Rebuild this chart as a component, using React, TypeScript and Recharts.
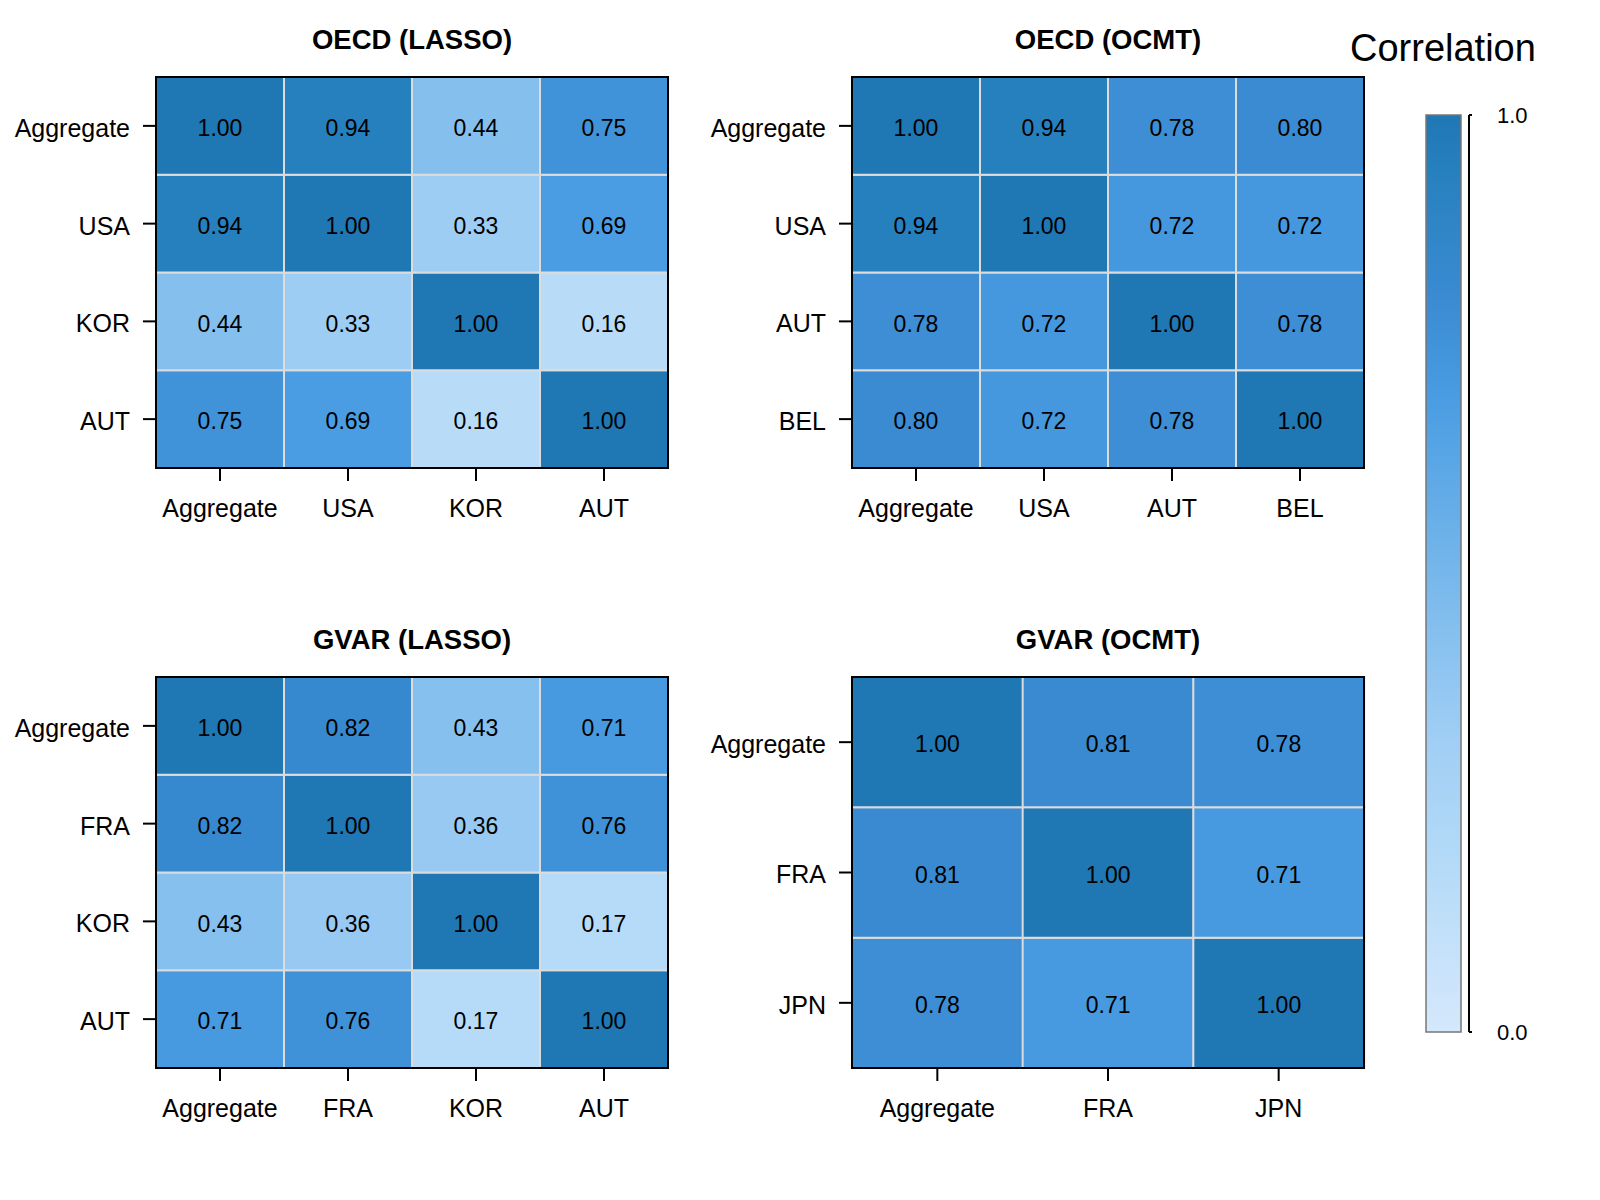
import React from 'react';
import { BarChart, Bar, XAxis, YAxis, Cell, LabelList, ReferenceArea } from 'recharts';

const oecdLassoLabels = ['Aggregate', 'USA', 'KOR', 'AUT'];
const oecdLassoValues = [
  [1.0, 0.94, 0.44, 0.75],
  [0.94, 1.0, 0.33, 0.69],
  [0.44, 0.33, 1.0, 0.16],
  [0.75, 0.69, 0.16, 1.0],
];

const oecdOcmtLabels = ['Aggregate', 'USA', 'AUT', 'BEL'];
const oecdOcmtValues = [
  [1.0, 0.94, 0.78, 0.8],
  [0.94, 1.0, 0.72, 0.72],
  [0.78, 0.72, 1.0, 0.78],
  [0.8, 0.72, 0.78, 1.0],
];

const gvarLassoLabels = ['Aggregate', 'FRA', 'KOR', 'AUT'];
const gvarLassoValues = [
  [1.0, 0.82, 0.43, 0.71],
  [0.82, 1.0, 0.36, 0.76],
  [0.43, 0.36, 1.0, 0.17],
  [0.71, 0.76, 0.17, 1.0],
];

const gvarOcmtLabels = ['Aggregate', 'FRA', 'JPN'];
const gvarOcmtValues = [
  [1.0, 0.81, 0.78],
  [0.81, 1.0, 0.71],
  [0.78, 0.71, 1.0],
];

const colorbarTicks = [0, 1];

const colorStops: [number, number[]][] = [
  [0.0, [213, 232, 252]],
  [0.16, [184, 220, 248]],
  [0.33, [158, 205, 244]],
  [0.44, [132, 191, 238]],
  [0.69, [74, 157, 226]],
  [0.8, [58, 139, 210]],
  [0.94, [39, 128, 190]],
  [1.0, [31, 119, 180]],
];

function corrColor(v: number): string {
  let i = 0;
  while (i < colorStops.length - 2 && v > colorStops[i + 1][0]) i++;
  const [a, ca] = colorStops[i];
  const [b, cb] = colorStops[i + 1];
  const t = Math.max(0, Math.min(1, (v - a) / (b - a)));
  const c = ca.map((x, k) => Math.round(x + (cb[k] - x) * t));
  return `rgb(${c[0]},${c[1]},${c[2]})`;
}

const FONT = '"Liberation Sans", Arial, sans-serif';
const BOX_W = 512;
const BOX_H = 391;

type HeatProps = {
  title: string;
  labels: string[];
  values: number[][];
  left: number;
  top: number;
};

function Heatmap({ title, labels, values, left, top }: HeatProps) {
  const n = labels.length;
  const data = labels.map((lab, j) => {
    const row: Record<string, any> = { col: lab };
    for (let k = 0; k < n; k++) {
      row[`s${k}`] = 1;
      row[`t${k}`] = values[n - 1 - k][j].toFixed(2);
    }
    return row;
  });
  const yTicks = Array.from({ length: n }, (_, k) => k + 0.5);
  const tickStyle = { fontSize: 25, fill: '#000', fontFamily: FONT };
  const axisStroke = { stroke: '#000', strokeWidth: 2 };
  return (
    <>
      <div
        style={{
          position: 'absolute',
          left: left,
          top: top - 51,
          width: BOX_W,
          textAlign: 'center',
          fontWeight: 'bold',
          fontSize: 27.5,
          lineHeight: '27.5px',
        }}
      >
        {title}
      </div>
      <div style={{ position: 'absolute', left: left - 150, top: top - 10 }}>
        <BarChart
          width={150 + BOX_W + 10}
          height={10 + BOX_H + 70}
          data={data}
          margin={{ top: 10, right: 10, left: 0, bottom: 0 }}
          barCategoryGap={0}
          barGap={0}
        >
          <XAxis
            dataKey="col"
            type="category"
            interval={0}
            height={70}
            tick={tickStyle}
            tickSize={13}
            tickMargin={18}
            axisLine={axisStroke}
            tickLine={axisStroke}
          />
          <YAxis
            type="number"
            domain={[0, n]}
            ticks={yTicks}
            interval={0}
            width={150}
            tick={{ ...tickStyle, dy: 2 }}
            tickSize={13}
            tickMargin={13}
            tickFormatter={(v: number) => labels[n - 1 - Math.floor(v)]}
            axisLine={axisStroke}
            tickLine={axisStroke}
          />
          {Array.from({ length: n }, (_, k) => (
            <Bar
              key={k}
              dataKey={`s${k}`}
              stackId="a"
              isAnimationActive={false}
              stroke="#dcdcdc"
              strokeWidth={2}
            >
              {labels.map((_, j) => (
                <Cell key={j} fill={corrColor(values[n - 1 - k][j])} />
              ))}
              <LabelList
                dataKey={`t${k}`}
                position="center"
                fill="#000"
                fontSize={23}
                fontFamily={FONT}
                dy={2}
              />
            </Bar>
          ))}
          <ReferenceArea
            x1={labels[0]}
            x2={labels[n - 1]}
            y1={0}
            y2={n}
            fill="none"
            fillOpacity={0}
            stroke="#000"
            strokeWidth={2}
            strokeOpacity={1}
            ifOverflow="visible"
            {...({ zIndex: 2000 } as any)}
          />
        </BarChart>
      </div>
    </>
  );
}

function ColorBar() {
  const cbData = [{ k: 'c', v: 1 }];
  const gradStops = colorStops.map(([v]) => v).reverse();
  return (
    <>
      <div
        style={{
          position: 'absolute',
          left: 1350,
          top: 29,
          fontSize: 38,
          lineHeight: '38px',
          whiteSpace: 'nowrap',
        }}
      >
        Correlation
      </div>
      <div style={{ position: 'absolute', left: 1418, top: 95 }}>
        <BarChart
          width={51 + 120}
          height={20 + 917 + 20}
          data={cbData}
          margin={{ top: 20, right: 0, left: 0, bottom: 20 }}
          barCategoryGap={0}
        >
          <defs>
            <linearGradient id="cbGrad" x1="0" y1="0" x2="0" y2="1">
              {gradStops.map((v) => (
                <stop key={v} offset={`${(1 - v) * 100}%`} stopColor={corrColor(v)} />
              ))}
            </linearGradient>
          </defs>
          <XAxis dataKey="k" type="category" hide height={0} />
          <YAxis
            type="number"
            orientation="right"
            domain={[0, 1]}
            ticks={colorbarTicks}
            interval={0}
            width={120}
            tickSize={3}
            tickMargin={25}
            tickFormatter={(v: number) => v.toFixed(1)}
            tick={{ fontSize: 22, fill: '#000', fontFamily: FONT }}
            axisLine={{ stroke: '#000', strokeWidth: 2 }}
            tickLine={{ stroke: '#000', strokeWidth: 2 }}
          />
          <Bar
            dataKey="v"
            barSize={35}
            fill="url(#cbGrad)"
            stroke="#777"
            strokeWidth={1.5}
            isAnimationActive={false}
          />
        </BarChart>
      </div>
    </>
  );
}

export default function App() {
  return (
    <div
      style={{
        position: 'absolute',
        left: 0,
        top: 0,
        width: 1600,
        height: 1200,
        background: '#fff',
        fontFamily: FONT,
        color: '#000',
      }}
    >
      <Heatmap title="OECD (LASSO)" labels={oecdLassoLabels} values={oecdLassoValues} left={156} top={77} />
      <Heatmap title="OECD (OCMT)" labels={oecdOcmtLabels} values={oecdOcmtValues} left={852} top={77} />
      <Heatmap title="GVAR (LASSO)" labels={gvarLassoLabels} values={gvarLassoValues} left={156} top={677} />
      <Heatmap title="GVAR (OCMT)" labels={gvarOcmtLabels} values={gvarOcmtValues} left={852} top={677} />
      <ColorBar />
    </div>
  );
}
